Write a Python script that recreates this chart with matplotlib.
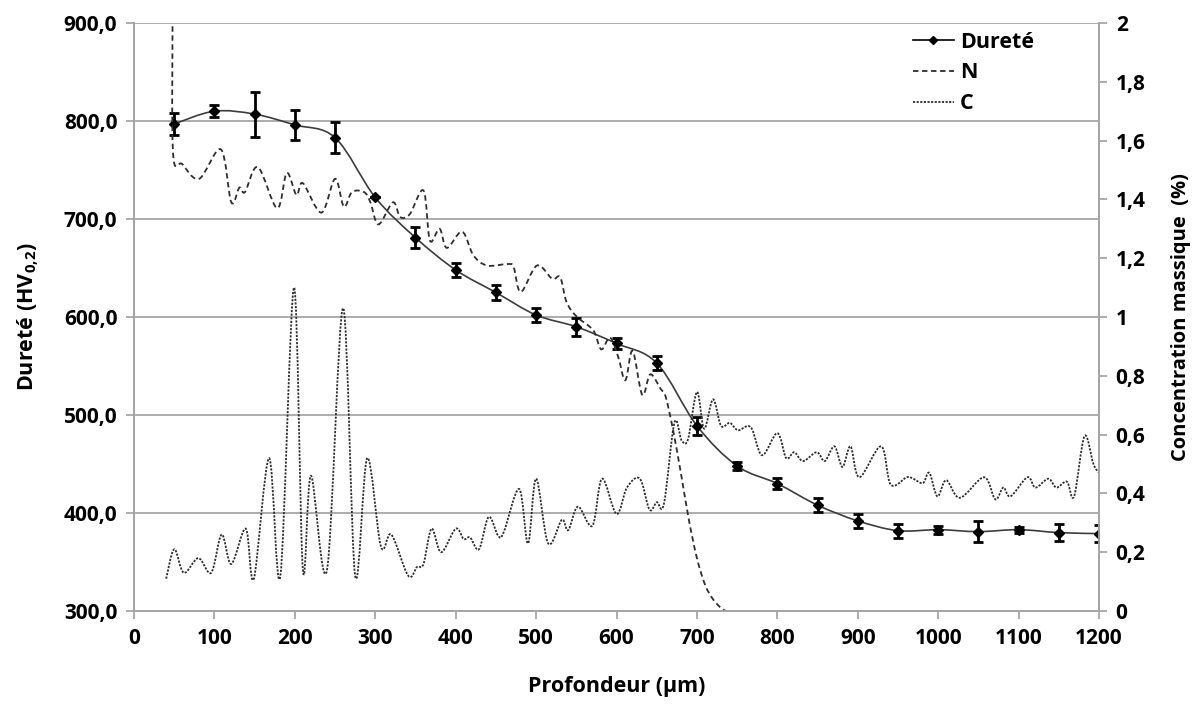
import numpy as np
import matplotlib
matplotlib.use("Agg")
import matplotlib.pyplot as plt
from matplotlib.path import Path
from matplotlib.patches import PathPatch
from matplotlib.lines import Line2D

plt.rcParams['font.family'] = ['Open Sans', 'DejaVu Sans']
plt.rcParams['font.weight'] = 'bold'
plt.rcParams['mathtext.fontset'] = 'custom'
plt.rcParams['mathtext.rm'] = 'Open Sans'
plt.rcParams['mathtext.bf'] = 'Open Sans:bold'

# durete (HV0,2) vs profondeur
prof = [50, 100, 150, 200, 250, 300, 350, 400, 450, 500, 550, 600,
        650, 700, 750, 800, 850, 900, 950, 1000, 1050, 1100, 1150, 1200]
durete = [797, 810, 807, 796, 783, 722, 681, 648, 625, 602, 590, 573,
          553, 489, 448, 430, 408, 392, 382, 383, 381, 383, 380, 379]
err = [11, 6, 23, 15, 16, 0, 11, 7, 8, 7, 9, 6,
       7, 9, 4, 6, 7, 7, 7, 4, 11, 3, 9, 9]

# concentration N (%)
n_x = [48, 48.5, 60, 81, 108, 121, 131, 138, 154, 178, 190, 202, 210, 233, 250, 261,
       271, 286, 294, 304, 322, 331, 343, 360, 368, 380, 389, 408, 422, 439, 464,
       472, 481, 501, 520, 530, 538, 551, 571, 581, 592, 602, 611, 620, 632, 642,
       655, 661, 670, 680, 690, 700, 710, 720, 730, 736]
n_v = [2.05, 1.56, 1.52, 1.47, 1.57, 1.39, 1.44, 1.425, 1.51, 1.37, 1.49, 1.415,
       1.455, 1.355, 1.47, 1.375, 1.425, 1.425, 1.39, 1.315, 1.39, 1.34, 1.35, 1.43,
       1.26, 1.30, 1.235, 1.29, 1.21, 1.175, 1.18, 1.17, 1.085, 1.175, 1.13, 1.135,
       1.05, 1.0, 0.955, 0.89, 0.93, 0.865, 0.785, 0.885, 0.735, 0.805, 0.755, 0.73,
       0.62, 0.47, 0.31, 0.18, 0.09, 0.04, 0.01, 0.0]

# concentration C (%)
c_x = [40, 50, 62, 80, 96, 109, 121, 139, 149, 168, 182, 199, 210, 220, 240, 260,
       275, 290, 307, 320, 341, 352, 360, 370, 382, 400, 410, 418, 429, 441, 453,
       460, 479, 490, 500, 515, 532, 540, 552, 570, 582, 600, 613, 629, 641, 650,
       659, 672, 681, 689, 700, 709, 720, 730, 741, 751, 767, 781, 800, 811, 821,
       832, 849, 859, 871, 881, 891, 902, 929, 941, 961, 969, 981, 989, 999, 1010,
       1027, 1057, 1071, 1081, 1090, 1111, 1121, 1137, 1147, 1160, 1169, 1182,
       1193, 1200]
c_v = [0.11, 0.21, 0.13, 0.18, 0.13, 0.26, 0.16, 0.28, 0.11, 0.52, 0.12, 1.10,
       0.14, 0.46, 0.14, 1.03, 0.12, 0.52, 0.22, 0.26, 0.12, 0.15, 0.16, 0.28,
       0.20, 0.28, 0.245, 0.25, 0.21, 0.32, 0.255, 0.27, 0.415, 0.23, 0.45, 0.23,
       0.31, 0.275, 0.355, 0.29, 0.45, 0.33, 0.42, 0.45, 0.345, 0.37, 0.365, 0.64,
       0.58, 0.585, 0.745, 0.62, 0.72, 0.63, 0.64, 0.615, 0.625, 0.53, 0.605, 0.52,
       0.54, 0.51, 0.54, 0.51, 0.56, 0.49, 0.56, 0.455, 0.56, 0.43, 0.455, 0.45,
       0.435, 0.47, 0.39, 0.445, 0.385, 0.455, 0.38, 0.42, 0.39, 0.455, 0.42,
       0.45, 0.42, 0.44, 0.39, 0.595, 0.50, 0.47]


def smooth_path(xs, ys):
    # excel-like smoothed line: bezier segments through the points
    pts = np.column_stack([xs, ys]).astype(float)
    n = len(pts)
    verts = [pts[0]]
    codes = [Path.MOVETO]
    for i in range(n - 1):
        p0 = pts[i - 1] if i > 0 else pts[i]
        p1 = pts[i]
        p2 = pts[i + 1]
        p3 = pts[i + 2] if i + 2 < n else pts[i + 1]
        verts += [p1 + (p2 - p0) / 6, p2 - (p3 - p1) / 6, p2]
        codes += [Path.CURVE4] * 3
    return Path(verts, codes)


grey = '#a6a6a6'
fs = 15
fig = plt.figure(figsize=(12.04, 7.09), dpi=100)
ax = fig.add_axes([0.1113, 0.1382, 0.8015, 0.8294])
ax2 = ax.twinx()

ax.set_xlim(0, 1200)
ax.set_ylim(300, 900)
ax2.set_ylim(0, 2)

ax.set_xticks(np.arange(0, 1201, 100))
ax.set_yticks(np.arange(300, 901, 100))
ax.set_yticklabels([('%.1f' % v).replace('.', ',') for v in np.arange(300, 901, 100)])
r_ticks = np.round(np.arange(0, 2.01, 0.2), 1)
ax2.set_yticks(r_ticks)
ax2.set_yticklabels([('%g' % v).replace('.', ',') for v in r_ticks])

ax.grid(axis='y', color=grey, linewidth=1.3)
ax.set_axisbelow(True)
for a in (ax, ax2):
    for s in a.spines.values():
        s.set_color(grey)
        s.set_linewidth(1.3)
    a.spines['top'].set_visible(False)
    a.tick_params(colors=grey, labelcolor='black', labelsize=fs, width=1.3,
                  length=6, direction='out', pad=6)
for lab in ax.get_xticklabels() + ax.get_yticklabels() + ax2.get_yticklabels():
    lab.set_fontweight('bold')

# durete curve
ax.add_patch(PathPatch(smooth_path(prof, durete), fill=False,
                       edgecolor='#3c3c3c', linewidth=1.2, zorder=3))
ax.errorbar(prof, durete, yerr=err, fmt='D', color='black', markersize=5,
            elinewidth=2, capsize=3.5, capthick=2, zorder=4)

# N and C on right axis
ax2.add_patch(PathPatch(smooth_path(n_x, n_v), fill=False, edgecolor='#2e2e2e',
                        linewidth=1.3, linestyle=(0, (3, 2))))
ax2.add_patch(PathPatch(smooth_path(c_x, c_v), fill=False, edgecolor='#2e2e2e',
                        linewidth=1.3, linestyle=(0, (1.2, 0.8))))

ax.set_xlabel('Profondeur (µm)', fontsize=15.5, fontweight='bold', labelpad=20)
ax.set_ylabel('Dureté (HV$_{\\mathbf{0{,}2}}$)', fontsize=15.5, fontweight='bold', labelpad=16)
ax2.set_ylabel('Concentration massique  (%)', fontsize=14.5, fontweight='bold', labelpad=18)

handles = [
    Line2D([], [], color='black', linewidth=1.2, marker='D', markersize=4),
    Line2D([], [], color='#2e2e2e', linewidth=1.3, linestyle=(0, (3, 2))),
    Line2D([], [], color='#2e2e2e', linewidth=1.3, linestyle=(0, (1.2, 0.8))),
]
ax2.legend(handles, ['Dureté', 'N', 'C'], loc='upper left',
           bbox_to_anchor=(0.787, 1.018), frameon=False,
           prop={'size': 15.5, 'weight': 'bold'},
           handlelength=1.9, handletextpad=0.3, labelspacing=0.45)

fig.savefig('out.png', dpi=100)
